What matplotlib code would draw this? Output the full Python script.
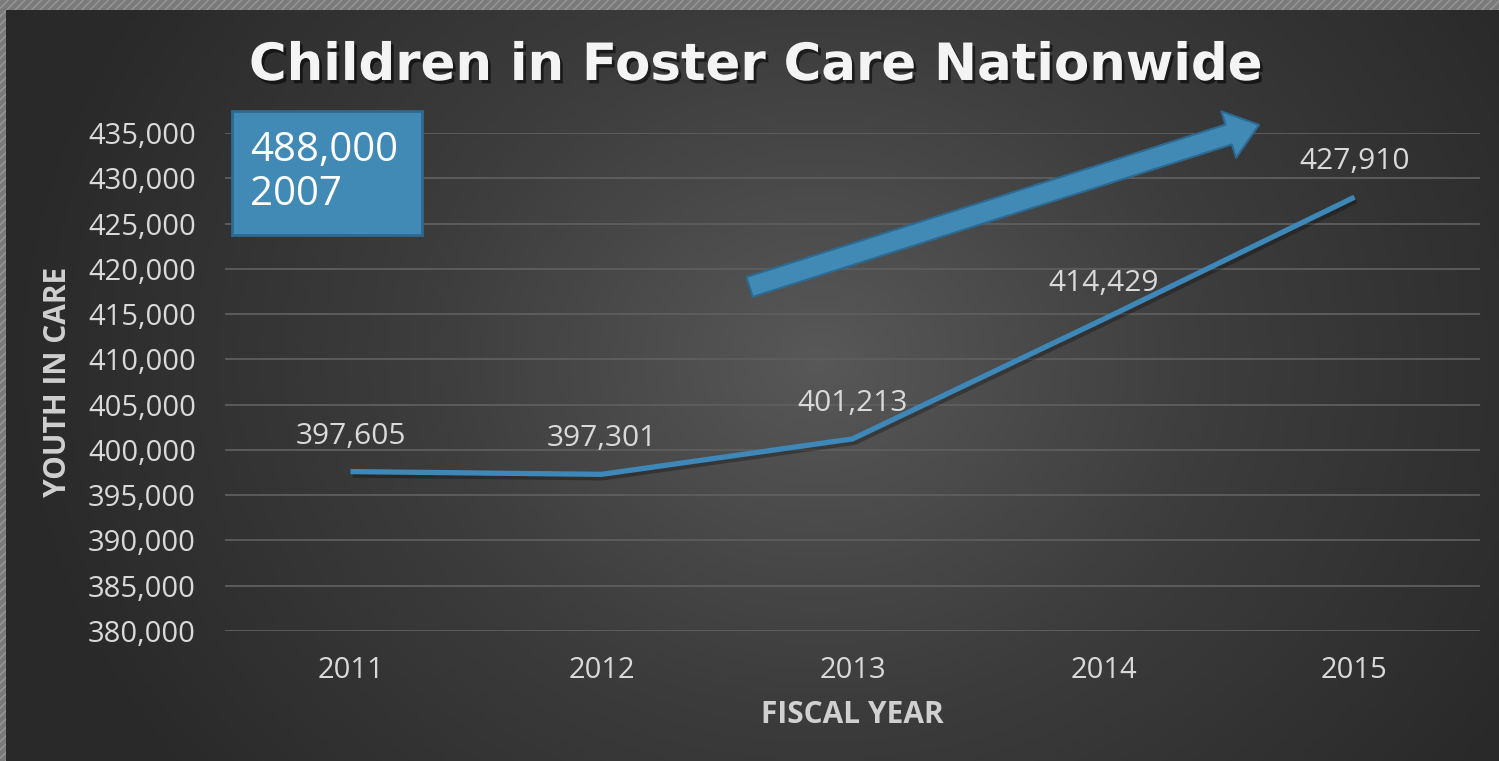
import numpy as np
import matplotlib
matplotlib.use("Agg")
import matplotlib.pyplot as plt
import matplotlib.patheffects as pe
from matplotlib.patches import Rectangle
from matplotlib.colors import LinearSegmentedColormap

years = ["2011", "2012", "2013", "2014", "2015"]
youth_in_care = [397605, 397301, 401213, 414429, 427910]
y_ticks = list(range(380000, 435001, 5000))
title = "Children in Foster Care Nationwide"
box_text = "488,000\n2007"

W, H = 1499, 761
fig = plt.figure(figsize=(W / 100, H / 100), dpi=100)
fig.patch.set_facecolor("#7d7d7d")

# hatched border background
bg_border = fig.add_axes([0, 0, 1, 1], zorder=-3)
bg_border.set_axis_off()
bg_border.add_patch(Rectangle((0, 0), 1, 1, transform=bg_border.transAxes,
                              facecolor="#7a7a7a", edgecolor="#989898",
                              hatch="////", linewidth=0))

# radial gradient panel
px0, py0 = 6, 10
bg = fig.add_axes([px0 / W, 0, (W - px0) / W, (H - py0) / H], zorder=-2)
bg.set_axis_off()
gx = np.linspace(px0, W, 400)
gy = np.linspace(py0, H, 200)
GX, GY = np.meshgrid(gx, gy)
cx, cy = 820, 360
r = np.sqrt(((GX - cx) / 1.0) ** 2 + ((GY - cy) / 0.85) ** 2)
r = np.clip(r / 820, 0, 1)
cmap = LinearSegmentedColormap.from_list("bgc", ["#585858", "#3c3c3c", "#292929"])
bg.imshow(r, cmap=cmap, aspect="auto", extent=[0, 1, 0, 1], vmin=0, vmax=1)
bg.set_xlim(0, 1)
bg.set_ylim(0, 1)

# main axes
left, right = 225 / W, 1480 / W
top, bottom = 1 - 133 / H, 1 - 631 / H
ax = fig.add_axes([left, bottom, right - left, top - bottom])
ax.set_facecolor("none")
x = np.arange(len(years))
ax.set_xlim(-0.5, len(years) - 0.5)
ax.set_ylim(380000, 435000)
ax.set_yticks(y_ticks)
ax.set_yticklabels([f"{v:,}" for v in y_ticks])
ax.set_xticks(x)
ax.set_xticklabels(years)
for s in ax.spines.values():
    s.set_visible(False)
ax.tick_params(axis="both", length=0, colors="#d9d9d9", labelsize=21)
ax.tick_params(axis="y", pad=21)
ax.tick_params(axis="x", pad=18)
for lab in ax.get_xticklabels() + ax.get_yticklabels():
    lab.set_fontfamily("Open Sans")
ax.grid(axis="y", color="#5e5e5e", linewidth=1.3)
ax.set_axisbelow(True)

line_color = "#3d88b8"
ax.plot(x, youth_in_care, color=line_color, linewidth=3.8, solid_capstyle="butt",
        path_effects=[pe.SimpleLineShadow(offset=(1.5, -2.5), shadow_color="black", alpha=0.28),
                      pe.Normal()], zorder=3)

for xi, v in zip(x, youth_in_care):
    ax.annotate(f"{v:,}", (xi, v), xytext=(0, 25.5), textcoords="offset points",
                ha="center", va="center", color="#d9d9d9", fontsize=21.5,
                family="Open Sans")

# big trend arrow (annotation)
ax.annotate("", xy=(3.62, 435900), xytext=(1.59, 418000),
            arrowprops=dict(arrowstyle="simple,head_length=1.15,head_width=1.75,tail_width=0.75",
                            mutation_scale=20, facecolor="#418ab5", edgecolor="#2d6a92",
                            linewidth=1.5, shrinkA=0, shrinkB=0),
            annotation_clip=False, zorder=4)

# title
fig.text(756 / W, 1 - 66 / H, title, ha="center", va="center", color="#f4f4f4",
         fontsize=37, fontweight="bold", family="DejaVu Sans",
         path_effects=[pe.withSimplePatchShadow(offset=(2, -2.5), shadow_rgbFace="black", alpha=0.55)])

# axis titles
fig.text(58 / W, 1 - 382 / H, "YOUTH IN CARE", rotation=90, ha="center", va="center",
         color="#d0d0d0", fontsize=21.5, fontweight="bold", family="Open Sans")
fig.text(852 / W, 1 - 715 / H, "FISCAL YEAR", ha="center", va="center",
         color="#d0d0d0", fontsize=21.5, fontweight="bold", family="Open Sans")

# callout box
bx0, by0, bx1, by1 = 232, 111, 422, 235
fig.patches.append(Rectangle((bx0 / W, 1 - by1 / H), (bx1 - bx0) / W, (by1 - by0) / H,
                             transform=fig.transFigure, facecolor="#418ab5",
                             edgecolor="#2d6a92", linewidth=2, zorder=5))
fig.text(250 / W, 1 - 173 / H, box_text, ha="left", va="center", color="white",
         fontsize=29, family="Open Sans", linespacing=1.1, zorder=6)

fig.savefig("out.png", dpi=100, facecolor=fig.get_facecolor())
